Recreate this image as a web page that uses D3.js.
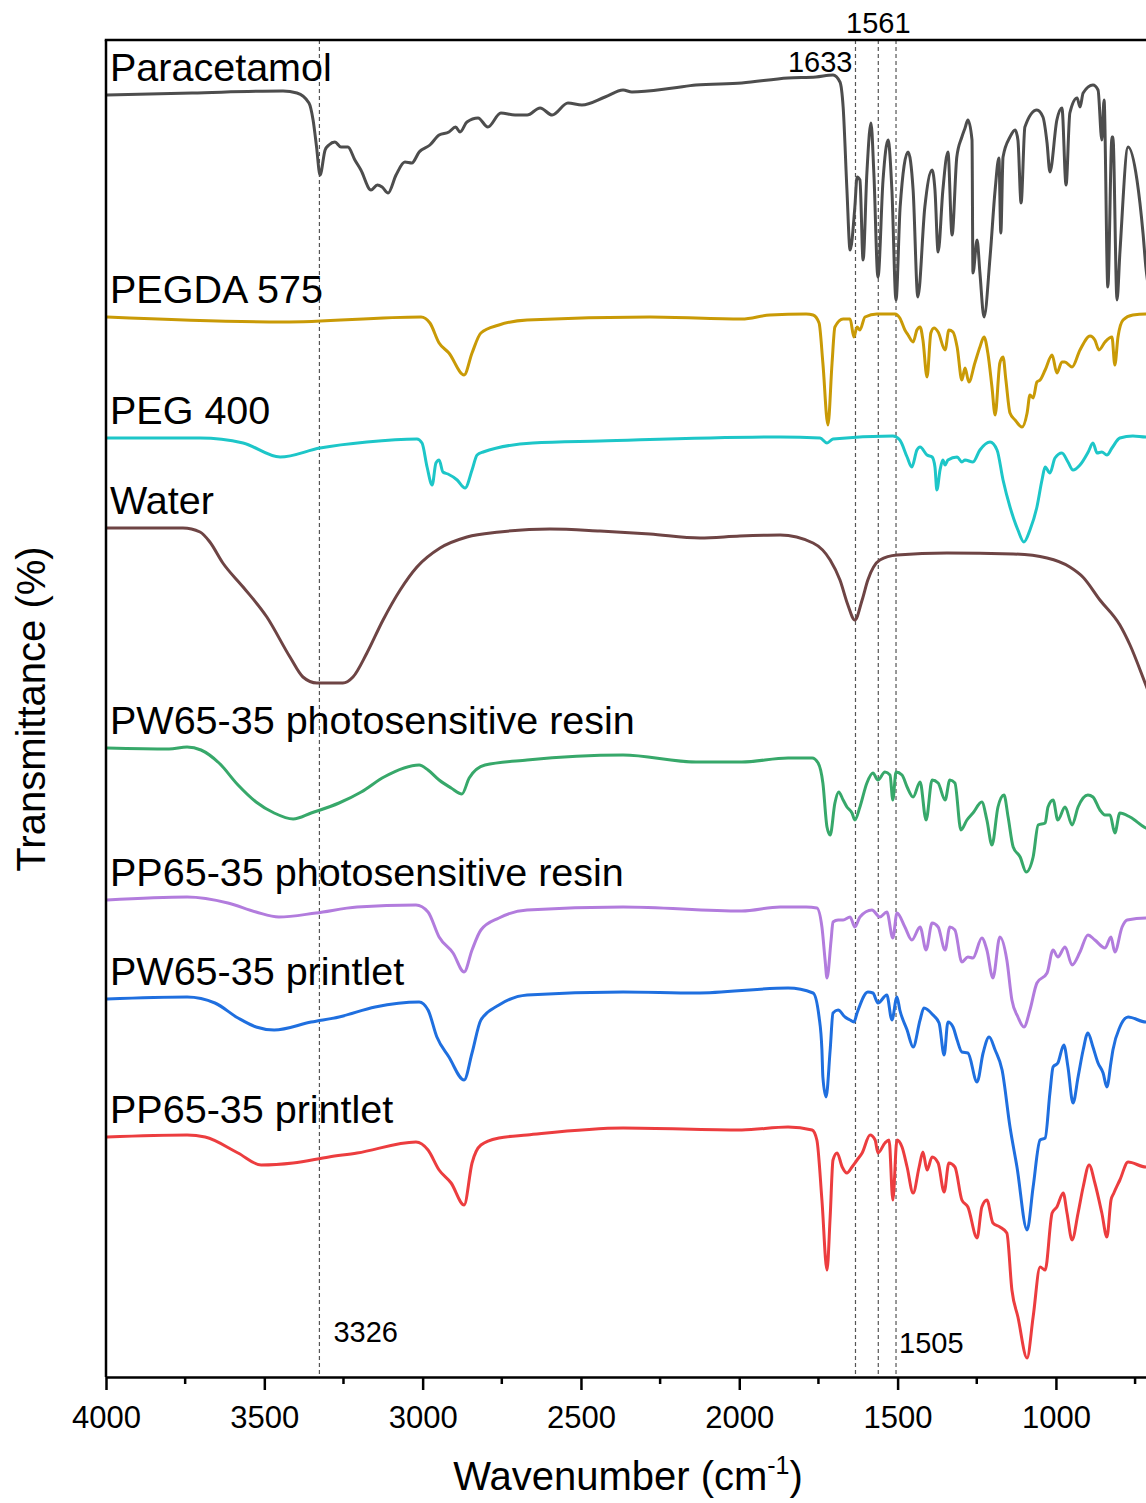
<!DOCTYPE html>
<html>
<head>
<meta charset="utf-8">
<script src="https://cdn.jsdelivr.net/npm/d3@7"></script>
<style>
  body { margin: 0; background: #fff; }
  svg text { font-family: "Liberation Sans", Arial, sans-serif; fill: #000; }
</style>
</head>
<body>
<div id="chart"></div>
<script>
// FTIR spectra, stacked (wavenumber cm-1, offset transmittance)
const wavenumberTicks = [4000, 3500, 3000, 2500, 2000, 1500, 1000];
const minorTicks = [3750, 3250, 2750, 2250, 1750, 1250, 750];
const peakLines = [3326, 1633, 1561, 1505];

const paracetamol = [[3997,130.5],[3728,130.7],[3441,130.9],[3397,130.7],[3359,129.7],[3346,128.0],[3335,125.3],[3324,122.5],[3308,125.0],[3296,125.5],[3277,125.8],[3258,125.3],[3236,125.3],[3214,124.0],[3195,123.0],[3163,121.0],[3143,121.5],[3128,121.3],[3109,120.7],[3084,122.5],[3056,123.8],[3034,123.7],[3011,124.8],[2977,125.5],[2948,126.5],[2917,126.8],[2896,127.3],[2882,126.8],[2860,127.8],[2825,128.2],[2794,127.3],[2753,128.7],[2708,128.5],[2670,128.5],[2629,129.2],[2591,128.5],[2541,129.7],[2497,129.5],[2424,130.3],[2367,131.0],[2339,130.8],[2209,131.2],[2137,131.5],[1992,131.7],[1846,132.2],[1758,132.3],[1704,132.5],[1682,131.8],[1672,129.3],[1660,121.0],[1650,115.0],[1635,119.3],[1628,122.3],[1619,122.0],[1609,114.0],[1597,122.7],[1584,127.7],[1575,122.7],[1562,112.3],[1546,122.0],[1530,126.0],[1518,121.0],[1505,110.0],[1492,119.3],[1467,124.8],[1451,121.0],[1436,110.3],[1414,119.3],[1391,123.0],[1382,121.0],[1372,114.8],[1357,121.0],[1341,124.8],[1328,116.5],[1313,124.3],[1297,126.3],[1287,127.2],[1278,128.0],[1265,126.0],[1262,112.7],[1249,116.0],[1240,112.7],[1227,108.3],[1208,114.3],[1192,121.0],[1180,124.2],[1174,116.7],[1167,124.3],[1145,126.3],[1129,127.0],[1120,126.0],[1110,119.7],[1098,127.3],[1060,129.0],[1041,128.3],[1028,125.7],[1019,122.8],[997,128.0],[981,129.2],[968,121.5],[956,128.7],[933,130.2],[924,129.3],[914,130.7],[883,131.5],[867,131.0],[855,126.0],[848,130.0],[836,111.3],[823,126.3],[820,126.3],[807,110.0],[798,114.7],[772,125.3],[744,122.0],[725,116.7],[716,113.3],[700,110.0]];

const pegda575 = [[3997,108.3],[3441,107.8],[3005,108.3],[2977,107.7],[2948,105.7],[2917,104.7],[2869,102.5],[2844,104.7],[2816,106.7],[2759,107.5],[2670,108.0],[2282,108.3],[1992,108.1],[1903,108.5],[1789,108.6],[1767,108.5],[1748,107.7],[1736,103.7],[1720,97.5],[1707,103.7],[1698,107.3],[1672,108.1],[1650,108.1],[1638,106.3],[1628,107.3],[1619,107.0],[1603,108.3],[1565,108.6],[1508,108.6],[1493,108.2],[1477,107.0],[1467,106.5],[1451,105.8],[1439,107.0],[1429,107.3],[1420,106.0],[1407,102.3],[1395,106.7],[1385,107.2],[1372,106.8],[1350,105.0],[1338,107.0],[1325,106.8],[1312,105.3],[1297,102.0],[1287,103.2],[1275,101.8],[1256,103.7],[1240,105.3],[1227,106.3],[1215,104.7],[1202,101.3],[1192,98.5],[1177,103.7],[1167,104.3],[1158,102.0],[1145,98.7],[1129,98.0],[1107,97.3],[1091,98.7],[1082,100.5],[1072,100.2],[1060,101.8],[1050,102.0],[1034,103.0],[1012,104.5],[997,102.7],[981,103.8],[972,103.8],[949,103.3],[924,105.0],[892,106.4],[877,106.0],[864,105.0],[845,105.8],[823,106.3],[814,103.5],[804,106.3],[788,108.0],[757,108.5],[716,108.6],[700,108.6]];

const peg400 = [[3997,96.2],[3703,96.2],[3567,95.7],[3450,94.3],[3324,95.2],[3176,95.8],[3018,96.1],[3002,95.7],[2986,93.3],[2970,91.5],[2958,93.7],[2948,94.0],[2936,92.8],[2920,92.6],[2891,92.0],[2866,91.2],[2844,93.0],[2828,94.5],[2809,94.8],[2652,95.7],[2440,95.9],[1871,96.3],[1745,96.2],[1723,95.7],[1704,96.1],[1515,96.4],[1493,96.0],[1470,94.3],[1455,93.3],[1439,95.0],[1429,95.3],[1407,94.5],[1391,94.3],[1382,93.3],[1376,91.0],[1366,93.0],[1357,94.0],[1350,93.5],[1341,94.0],[1312,94.3],[1297,93.8],[1287,94.0],[1262,93.8],[1240,95.0],[1208,95.8],[1186,95.0],[1167,92.0],[1145,89.3],[1120,87.0],[1101,85.8],[1082,87.0],[1060,89.3],[1044,92.0],[1034,93.3],[1019,92.7],[1003,94.2],[981,94.7],[962,93.8],[946,93.0],[924,93.5],[898,94.8],[883,95.7],[870,94.7],[855,94.8],[839,94.5],[823,95.2],[798,96.2],[757,96.4],[716,96.3],[700,96.3]];

const water = [[3997,87.2],[3757,87.2],[3703,86.8],[3672,85.8],[3631,83.7],[3567,81.3],[3492,78.3],[3419,74.3],[3378,72.3],[3334,71.7],[3252,71.7],[3220,72.3],[3176,74.7],[3125,78.0],[3071,81.0],[3018,83.3],[2945,85.2],[2860,86.3],[2757,86.8],[2598,87.1],[2440,86.9],[2282,86.6],[2124,86.2],[1998,86.4],[1871,86.5],[1767,85.7],[1713,84.0],[1682,82.0],[1657,79.5],[1635,78.0],[1612,80.0],[1594,82.0],[1556,84.0],[1502,84.5],[1344,84.7],[1135,84.6],[1028,84.2],[956,83.3],[915,82.3],[861,80.0],[798,77.5],[766,75.5],[716,71.5],[700,70.2]];

const pwResin = [[3997,65.2],[3801,65.1],[3744,65.3],[3700,65.0],[3643,63.7],[3583,61.5],[3526,59.8],[3469,58.7],[3409,58.1],[3352,58.7],[3264,59.7],[3194,60.8],[3122,62.3],[3011,63.5],[2983,63.0],[2948,62.0],[2910,61.2],[2876,60.6],[2853,62.2],[2803,63.5],[2670,64.0],[2367,64.5],[2137,63.8],[1992,63.8],[1846,64.2],[1770,64.2],[1751,63.7],[1736,61.7],[1723,57.3],[1713,56.5],[1698,59.7],[1686,60.8],[1672,60.0],[1660,59.3],[1644,58.7],[1635,58.0],[1619,59.3],[1597,61.7],[1578,62.7],[1562,62.0],[1540,62.8],[1524,62.5],[1515,60.0],[1505,62.8],[1486,62.5],[1470,61.3],[1451,60.3],[1429,61.8],[1410,58.0],[1391,62.0],[1372,61.7],[1350,60.0],[1335,62.0],[1319,61.7],[1300,57.0],[1281,58.0],[1262,58.7],[1234,59.8],[1218,58.0],[1202,55.5],[1183,59.3],[1164,60.5],[1151,58.3],[1135,55.3],[1113,54.3],[1094,52.8],[1072,54.3],[1056,57.5],[1034,57.7],[1025,59.3],[1009,60.0],[994,58.0],[971,59.3],[949,57.5],[930,59.3],[899,60.5],[883,60.3],[861,59.0],[845,58.5],[829,58.5],[814,56.7],[798,58.7],[766,58.3],[716,57.2],[700,57.0]];

const ppResin = [[3997,50.0],[3744,50.3],[3615,49.7],[3526,48.8],[3454,48.3],[3337,48.7],[3207,49.3],[3021,49.5],[2983,48.8],[2948,46.3],[2904,44.7],[2869,42.8],[2844,45.0],[2816,47.0],[2759,48.2],[2670,49.0],[2367,49.3],[1992,48.9],[1871,49.3],[1789,49.3],[1755,49.2],[1739,47.3],[1729,44.0],[1723,42.2],[1710,46.0],[1704,47.8],[1688,48.0],[1672,48.0],[1650,48.3],[1635,47.3],[1619,48.3],[1581,49.0],[1556,48.3],[1534,48.8],[1515,46.2],[1502,48.7],[1477,47.3],[1455,46.0],[1429,47.3],[1410,45.0],[1391,47.7],[1372,47.3],[1350,45.0],[1335,47.3],[1319,47.0],[1297,43.8],[1278,44.3],[1262,44.2],[1234,46.2],[1218,45.0],[1199,42.2],[1177,46.3],[1155,44.0],[1139,40.0],[1120,38.3],[1101,37.3],[1082,39.0],[1060,41.7],[1028,42.7],[1009,45.0],[994,44.3],[971,45.3],[949,43.5],[924,44.8],[899,46.5],[877,46.0],[845,45.2],[826,46.3],[814,44.8],[791,47.3],[775,48.0],[716,48.2],[700,48.2]];

const pwPrintlet = [[3997,40.1],[3744,40.3],[3656,39.7],[3583,38.2],[3526,37.3],[3469,37.0],[3352,37.8],[3264,38.3],[3150,39.3],[3011,39.8],[2983,39.0],[2955,36.3],[2917,34.3],[2869,32.0],[2844,34.7],[2816,38.0],[2759,39.5],[2670,40.5],[2367,40.8],[2137,40.7],[1846,41.2],[1767,40.7],[1748,38.3],[1739,35.0],[1736,32.3],[1726,30.3],[1713,35.0],[1704,38.7],[1688,39.0],[1666,38.3],[1650,38.0],[1638,37.8],[1628,38.7],[1594,40.8],[1578,40.7],[1562,39.7],[1534,40.5],[1518,38.0],[1502,40.3],[1493,39.0],[1470,37.0],[1451,35.3],[1429,38.0],[1417,39.2],[1388,38.5],[1369,37.7],[1353,34.5],[1341,37.8],[1325,37.3],[1312,36.0],[1297,34.8],[1278,34.7],[1249,31.8],[1230,34.7],[1211,36.3],[1192,35.0],[1170,33.0],[1145,27.3],[1123,23.3],[1091,17.0],[1072,21.3],[1050,26.0],[1034,26.2],[1019,30.7],[1009,33.3],[994,33.7],[975,35.5],[962,33.3],[946,29.7],[930,32.3],[914,35.0],[899,36.7],[883,35.3],[867,33.7],[851,32.7],[839,31.3],[826,33.8],[820,35.0],[798,37.3],[772,38.3],[716,37.8],[700,37.8]];

const ppPrintlet = [[3997,26.3],[3744,26.5],[3687,26.3],[3583,24.7],[3510,23.5],[3409,23.7],[3296,24.3],[3207,24.7],[3021,25.8],[2983,25.0],[2948,23.0],[2910,21.7],[2869,19.5],[2844,23.7],[2816,25.5],[2759,26.2],[2670,26.5],[2367,27.2],[1992,27.0],[1846,27.3],[1770,27.0],[1755,26.0],[1739,20.0],[1723,13.0],[1713,18.3],[1704,24.0],[1691,24.7],[1675,23.3],[1660,22.7],[1644,23.3],[1628,24.0],[1612,24.7],[1587,26.5],[1571,26.0],[1562,24.7],[1540,25.7],[1527,26.0],[1515,20.0],[1502,26.0],[1486,25.3],[1470,23.3],[1451,20.7],[1432,23.3],[1420,24.8],[1407,23.0],[1391,24.3],[1372,23.7],[1353,20.8],[1338,23.7],[1319,23.3],[1297,20.0],[1278,19.3],[1249,16.2],[1234,19.3],[1218,20.0],[1199,17.7],[1177,17.3],[1155,16.7],[1139,11.0],[1120,8.3],[1091,4.2],[1072,8.3],[1050,13.3],[1034,13.0],[1012,18.7],[997,19.3],[977,20.7],[965,18.7],[949,16.0],[930,18.7],[914,21.3],[895,23.5],[877,21.7],[855,18.7],[839,16.3],[826,20.0],[817,20.7],[798,22.0],[772,23.8],[716,23.3],[700,23.3]];

const seriesNames = ['Paracetamol', 'PEGDA 575', 'PEG 400', 'Water',
    'PW65-35 photosensitive resin', 'PP65-35 photosensitive resin',
    'PW65-35 printlet', 'PP65-35 printlet'];
const seriesData = [paracetamol, pegda575, peg400, water, pwResin, ppResin, pwPrintlet, ppPrintlet];
const seriesColors = ['#4d4d4d', '#c99a06', '#1dc6c8', '#6e4444', '#37a86a', '#b27cdd', '#1f6fdf', '#ec3d3f'];

const width = 1146, height = 1503;
const margin = { left: 106, top: 40, bottom: 126 };
const plotBottom = height - margin.bottom;

const svg = d3.select('#chart').append('svg')
    .attr('width', width)
    .attr('height', height);

const x = d3.scaleLinear().domain([4000, 650]).range([margin.left, margin.left + 3350 * 0.31664]);
const y = d3.scaleLinear().domain([2.3, 136]).range([plotBottom, margin.top]);

//dashed peak markers
svg.append('g').selectAll('line')
    .data(peakLines)
    .join('line')
    .attr('x1', d => x(d)).attr('x2', d => x(d))
    .attr('y1', margin.top).attr('y2', plotBottom)
    .attr('stroke', '#555').attr('stroke-width', 1.2)
    .attr('stroke-dasharray', '4,3');

//spectra
const line = d3.line()
    .curve(d3.curveMonotoneX)
    .x(d => x(d[0]))
    .y(d => y(d[1]));

svg.append('g').selectAll('path')
    .data(seriesData)
    .join('path')
    .attr('fill', 'none')
    .attr('stroke', (d, i) => seriesColors[i])
    .attr('stroke-width', 3)
    .attr('stroke-linejoin', 'round')
    .attr('d', d => line(d));

//series labels, just above each trace start
svg.append('g').selectAll('text')
    .data(seriesData)
    .join('text')
    .attr('x', margin.left + 4)
    .attr('y', d => y(d[0][1]) - 14)
    .attr('font-size', 39.5)
    .text((d, i) => seriesNames[i]);

//peak labels
const peakLabels = [
    { w: 3326, dx: 14, y: 1342, anchor: 'start' },
    { w: 1633, dx: -3, y: 72, anchor: 'end' },
    { w: 1561, dx: 0, y: 33, anchor: 'middle' },
    { w: 1505, dx: 3, y: 1353, anchor: 'start' }
];
svg.append('g').selectAll('text')
    .data(peakLabels)
    .join('text')
    .attr('x', d => x(d.w) + d.dx)
    .attr('y', d => d.y)
    .attr('text-anchor', d => d.anchor)
    .attr('font-size', 29)
    .text(d => d.w);

//axes
const xAxis = svg.append('g')
    .attr('transform', `translate(0,${plotBottom})`)
    .call(d3.axisBottom(x).tickValues(wavenumberTicks).tickSize(13).tickSizeOuter(0).tickPadding(16)
        .tickFormat(d3.format('d')));
xAxis.select('.domain').attr('stroke-width', 2.5);
xAxis.selectAll('.tick line').attr('stroke-width', 2.5);
xAxis.selectAll('.tick text').attr('font-size', 31).attr('font-family', '"Liberation Sans", Arial, sans-serif');

svg.append('g').selectAll('line')
    .data(minorTicks)
    .join('line')
    .attr('x1', d => x(d)).attr('x2', d => x(d))
    .attr('y1', plotBottom).attr('y2', plotBottom + 7)
    .attr('stroke', '#000').attr('stroke-width', 2.5);

svg.append('line')
    .attr('x1', margin.left).attr('x2', margin.left)
    .attr('y1', margin.top).attr('y2', plotBottom)
    .attr('stroke', '#000').attr('stroke-width', 2.5);
svg.append('line')
    .attr('x1', margin.left - 1.25).attr('x2', x.range()[1])
    .attr('y1', margin.top).attr('y2', margin.top)
    .attr('stroke', '#000').attr('stroke-width', 2.5);

//titles
svg.append('text')
    .attr('transform', 'rotate(-90)')
    .attr('x', -709).attr('y', 45)
    .attr('text-anchor', 'middle')
    .attr('font-size', 40)
    .text('Transmittance (%)');

const xTitle = svg.append('text')
    .attr('x', 628).attr('y', 1490)
    .attr('text-anchor', 'middle')
    .attr('font-size', 40);
xTitle.append('tspan').text('Wavenumber (cm');
xTitle.append('tspan').attr('font-size', 25).attr('dy', -16).text('-1');
xTitle.append('tspan').attr('dy', 16).text(')');
</script>
</body>
</html>
